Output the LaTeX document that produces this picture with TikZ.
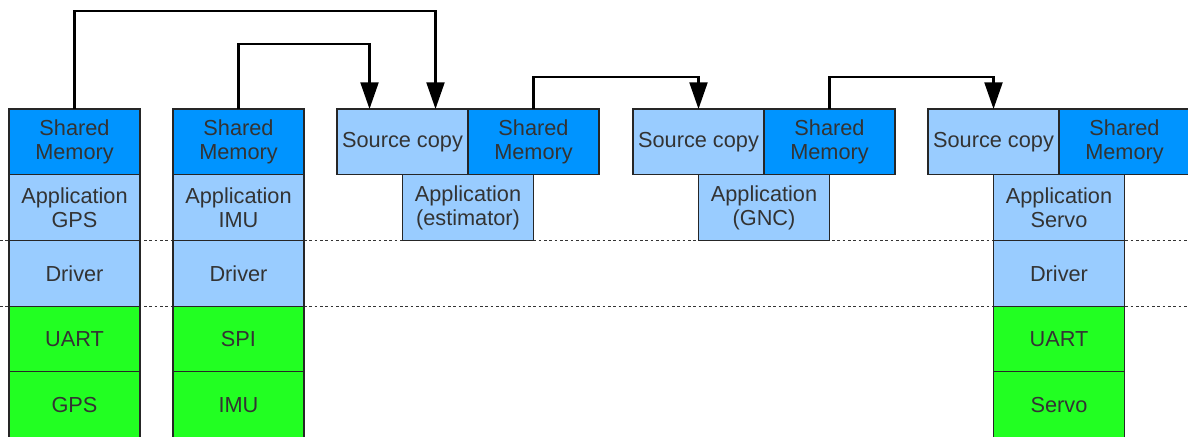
\documentclass[tikz,border=0pt]{standalone}
\usepackage{fontspec}
\setmainfont{Liberation Sans}
\usepackage{xcolor}
\usetikzlibrary{positioning,arrows.meta}
\definecolor{shmblue}{RGB}{0,148,255}
\definecolor{appblue}{RGB}{153,204,255}
\definecolor{hwgreen}{RGB}{34,255,34}
\definecolor{txtgray}{RGB}{51,51,51}
\tikzset{layer/.style={draw=black!85, line width=0.8pt, minimum width=98.25pt,
        minimum height=49.3pt, inner sep=0pt, outer sep=0pt, align=center, text=txtgray,
        font=\fontsize{16.3pt}{18pt}\selectfont},
    shm/.style={layer, fill=shmblue},
    app/.style={layer, fill=appblue},
    hw/.style={layer, fill=hwgreen},
    flow/.style={line width=1.6pt, -{Triangle[length=20pt,width=13.5pt]}},
    sep/.style={line width=0.7pt, black!80, dash pattern=on 2pt off 2pt}}

\begin{document}
\begin{tikzpicture}[x=0.75pt, y=-0.75pt]
    \clip (0,0) rectangle (1188,436);
    \fill[white] (0,0) rectangle (1188,436);
    % layer separators
    \draw[sep] (0,240) -- (1188,240);
    \draw[sep] (0,306) -- (1188,306);
    % GPS stack
    \node[shm, anchor=north west] (gpsShm) at (9,109) {Shared\\Memory};
    \node[app, below=0pt of gpsShm] (gpsApp) {Application\\GPS};
    \node[app, below=0pt of gpsApp] (gpsDrv) {Driver};
    \node[hw, below=0pt of gpsDrv] (gpsBus) {UART};
    \node[hw, below=0pt of gpsBus] (gpsDev) {GPS};
    % IMU stack
    \node[shm, anchor=north west] (imuShm) at (173,109) {Shared\\Memory};
    \node[app, below=0pt of imuShm] (imuApp) {Application\\IMU};
    \node[app, below=0pt of imuApp] (imuDrv) {Driver};
    \node[hw, below=0pt of imuDrv] (imuBus) {SPI};
    \node[hw, below=0pt of imuBus] (imuDev) {IMU};
    % estimator
    \node[app, anchor=north west] (estCopy) at (337,109) {Source copy};
    \node[shm, right=0pt of estCopy] (estShm) {Shared\\Memory};
    \node[app, below=0pt of estCopy.south east] (estApp) {Application\\(estimator)};
    % GNC
    \node[app, anchor=north west] (gncCopy) at (633,109) {Source copy};
    \node[shm, right=0pt of gncCopy] (gncShm) {Shared\\Memory};
    \node[app, below=0pt of gncCopy.south east] (gncApp) {Application\\(GNC)};
    % servo stack
    \node[app, anchor=north west] (srvCopy) at (928,109) {Source copy};
    \node[shm, right=0pt of srvCopy] (srvShm) {Shared\\Memory};
    \node[app, below=0pt of srvCopy.south east] (srvApp) {Application\\Servo};
    \node[app, below=0pt of srvApp] (srvDrv) {Driver};
    \node[hw, below=0pt of srvDrv] (srvBus) {UART};
    \node[hw, below=0pt of srvBus] (srvDev) {Servo};
    % data flow
    \draw[flow] (gpsShm.north) -- ++(0,-98) -| ([xshift=24.75pt]estCopy.north);
    \draw[flow] (imuShm.north) -- ++(0,-65) -| ([xshift=-24.75pt]estCopy.north);
    \draw[flow] (estShm.north) -- ++(0,-32) -| (gncCopy.north);
    \draw[flow] (gncShm.north) -- ++(0,-32) -| (srvCopy.north);
\end{tikzpicture}
\end{document}
